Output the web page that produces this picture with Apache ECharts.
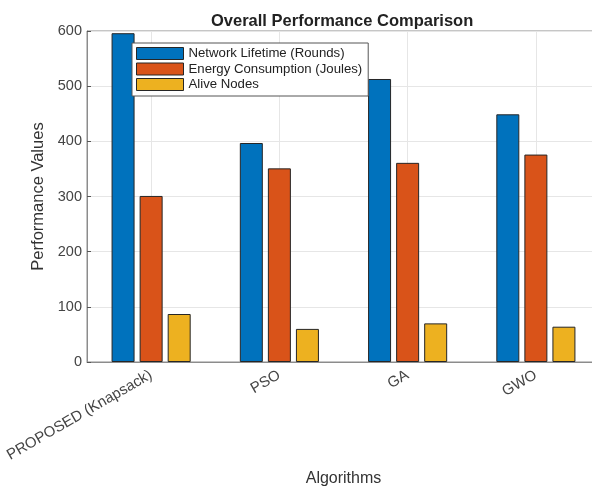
<!DOCTYPE html>
<html style="height: 100%">
<head>
<meta charset="utf-8">
<script src="https://cdn.jsdelivr.net/npm/echarts@6/dist/echarts.min.js"></script>
</head>
<body style="height: 100%; margin: 0; background: #fff">
<div id="container" style="width: 592px; height: 486px"></div>
<script type="text/javascript">
var algorithms = ['PROPOSED (Knapsack)', 'PSO', 'GA', 'GWO'];
var lifetime = [596, 397, 513, 449];
var energy = [301, 351, 361, 376];
var alive = [87, 60, 70, 64];
var yTicks = { min: 0, max: 600, step: 100 };

var font = 'Liberation Sans, Arial, sans-serif';
var chart = echarts.init(document.getElementById('container'));

function barSeries(name, data, color) {
  return {
    name: name,
    type: 'bar',
    data: data,
    barWidth: 23,
    barGap: '22%',
    z: 3,
    itemStyle: { color: color, borderColor: '#262626', borderWidth: 1 }
  };
}

var option = {
  animation: false,
  textStyle: { fontFamily: font },
  title: {
    text: 'Overall Performance Comparison',
    left: 206, top: 8,
    textStyle: { fontSize: 16.5, fontWeight: 'bold', color: '#222', fontFamily: font }
  },
  legend: {
    orient: 'vertical',
    left: 132, top: 43,
    padding: [4, 6, 5, 4],
    icon: 'rect',
    itemWidth: 47, itemHeight: 12, itemGap: 2.5,
    backgroundColor: '#fff',
    borderColor: '#555', borderWidth: 1,
    textStyle: { fontSize: 13.2, color: '#222', fontFamily: font },
    itemStyle: { borderColor: '#262626', borderWidth: 1 }
  },
  grid: {
    left: 87, top: 31, bottom: 124, right: -8,
    outerBoundsMode: 'none',
    containLabel: false,
    show: true, borderColor: '#8c8c8c', borderWidth: 1
  },
  xAxis: {
    type: 'category',
    data: algorithms,
    name: 'Algorithms',
    nameLocation: 'middle',
    nameGap: 109,
    nameTextStyle: { fontSize: 16, color: '#333' },
    axisLine: { lineStyle: { color: '#8c8c8c' } },
    axisTick: { show: true, inside: true, length: 4, alignWithLabel: true, lineStyle: { color: '#555' } },
    splitLine: { show: false },
    axisLabel: { rotate: 30, fontSize: 15, color: '#444', margin: 12, interval: 0 }
  },
  yAxis: {
    type: 'value',
    min: yTicks.min, max: yTicks.max, interval: yTicks.step,
    name: 'Performance Values',
    nameLocation: 'middle',
    nameGap: 35,
    nameTextStyle: { fontSize: 16.5, color: '#333' },
    axisLine: { show: true, lineStyle: { color: '#8c8c8c' } },
    axisTick: { show: true, inside: true, length: 4, lineStyle: { color: '#555' } },
    splitLine: { show: true, lineStyle: { color: '#e6e6e6' } },
    axisLabel: { fontSize: 14.5, color: '#444', margin: 5 }
  },
  series: [
    {
      type: 'line', data: [], z: 1, silent: true,
      markLine: {
        z: 1, silent: true, symbol: 'none', label: { show: false },
        lineStyle: { color: '#e6e6e6', type: 'solid', width: 1 },
        data: algorithms.map(function (a) { return { xAxis: a }; })
      }
    },
    barSeries('Network Lifetime (Rounds)', lifetime, '#0072BD'),
    barSeries('Energy Consumption (Joules)', energy, '#D95319'),
    barSeries('Alive Nodes', alive, '#EDB120')
  ]
};
option.legend.data = option.series.slice(1).map(function (s) { return s.name; });
chart.setOption(option);
</script>
</body>
</html>
